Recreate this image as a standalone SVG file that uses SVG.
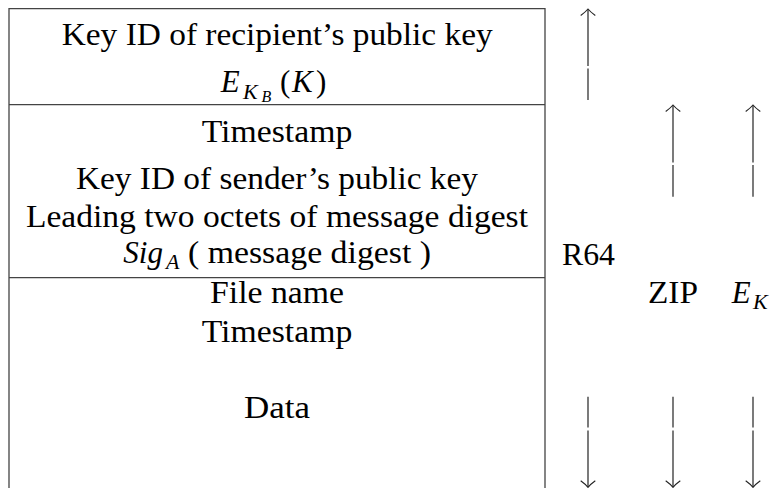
<svg xmlns="http://www.w3.org/2000/svg" width="774" height="488" viewBox="0 0 774 488">
<style>
  text { font-family: "Liberation Serif", "DejaVu Serif", serif; font-size: 31px; fill: #000; }
  .it { font-style: italic; }
  .sub { font-size: 22px; font-style: italic; }
  .subsub { font-size: 16px; font-style: italic; }
  .border { stroke: #444; stroke-width: 1.3; fill: none; }
  .shaft { stroke: #222; stroke-width: 1.2; fill: none; }
  .head { stroke: #222; stroke-width: 1.1; fill: none; }
</style>
<defs>
  <path id="upHead" d="M-7.3,6.5 Q-2.5,3 0,0 Q2.5,3 7.3,6.5"/>
  <path id="downHead" d="M-7.3,-6.5 Q-2.5,-3 0,0 Q2.5,-3 7.3,-6.5"/>
</defs>
<rect width="774" height="488" fill="#fff"/>

<g id="section-session-key">
  <path class="border" d="M9,490 V8.7 H545 V490"/>
  <text x="61.7" y="45" textLength="431" lengthAdjust="spacingAndGlyphs">Key ID of recipient’s public key</text>
  <text y="91.7"><tspan class="it" x="220.7">E</tspan><tspan class="sub" x="243" y="99">K</tspan><tspan class="subsub" x="261.5" y="102">B</tspan><tspan x="280" y="91.7">(</tspan><tspan class="it" x="292" y="91.7">K</tspan><tspan x="316" y="91.7">)</tspan></text>
</g>

<g id="section-signature">
  <line class="border" x1="9" y1="104.7" x2="545" y2="104.7"/>
  <text x="201.7" y="141.7" textLength="150.6" lengthAdjust="spacingAndGlyphs">Timestamp</text>
  <text x="76" y="189.3" textLength="402" lengthAdjust="spacingAndGlyphs">Key ID of sender’s public key</text>
  <text x="26" y="226.7" textLength="502" lengthAdjust="spacingAndGlyphs">Leading two octets of message digest</text>
  <text y="263.3"><tspan class="it" x="123.3">Sig</tspan><tspan class="sub" x="166" y="269">A</tspan><tspan x="188" y="263.3" textLength="243" lengthAdjust="spacingAndGlyphs">( message digest )</tspan></text>
</g>

<g id="section-message">
  <line class="border" x1="9" y1="277.7" x2="545" y2="277.7"/>
  <text x="210" y="303.3" textLength="134" lengthAdjust="spacingAndGlyphs">File name</text>
  <text x="201.7" y="341.7" textLength="150.6" lengthAdjust="spacingAndGlyphs">Timestamp</text>
  <text x="244" y="418.3" textLength="66" lengthAdjust="spacingAndGlyphs">Data</text>
</g>

<g id="label-r64">
  <text x="562" y="265" textLength="53" lengthAdjust="spacingAndGlyphs">R64</text>
</g>
<g id="label-zip">
  <text x="648" y="303" textLength="50" lengthAdjust="spacingAndGlyphs">ZIP</text>
</g>
<g id="label-ek">
  <text y="303"><tspan class="it" x="731.7">E</tspan><tspan class="sub" x="753" y="308.5">K</tspan></text>
</g>

<g id="connectors">
  <line class="shaft" x1="588" y1="9.5" x2="588" y2="66"/>
  <line class="shaft" x1="588" y1="68.5" x2="588" y2="100"/>
  <use href="#upHead" class="head" x="588" y="9"/>
  <line class="shaft" x1="673" y1="105.5" x2="673" y2="162.5"/>
  <line class="shaft" x1="673" y1="165" x2="673" y2="196.7"/>
  <use href="#upHead" class="head" x="673" y="105"/>
  <line class="shaft" x1="753" y1="105.5" x2="753" y2="162.5"/>
  <line class="shaft" x1="753" y1="165" x2="753" y2="196.7"/>
  <use href="#upHead" class="head" x="753" y="105"/>
  <line class="shaft" x1="588" y1="396.7" x2="588" y2="427.5"/>
  <line class="shaft" x1="588" y1="430.5" x2="588" y2="487"/>
  <use href="#downHead" class="head" x="588" y="487.3"/>
  <line class="shaft" x1="673" y1="396.7" x2="673" y2="427.5"/>
  <line class="shaft" x1="673" y1="430.5" x2="673" y2="487"/>
  <use href="#downHead" class="head" x="673" y="487.3"/>
  <line class="shaft" x1="753" y1="396.7" x2="753" y2="427.5"/>
  <line class="shaft" x1="753" y1="430.5" x2="753" y2="487"/>
  <use href="#downHead" class="head" x="753" y="487.3"/>
</g>
</svg>
